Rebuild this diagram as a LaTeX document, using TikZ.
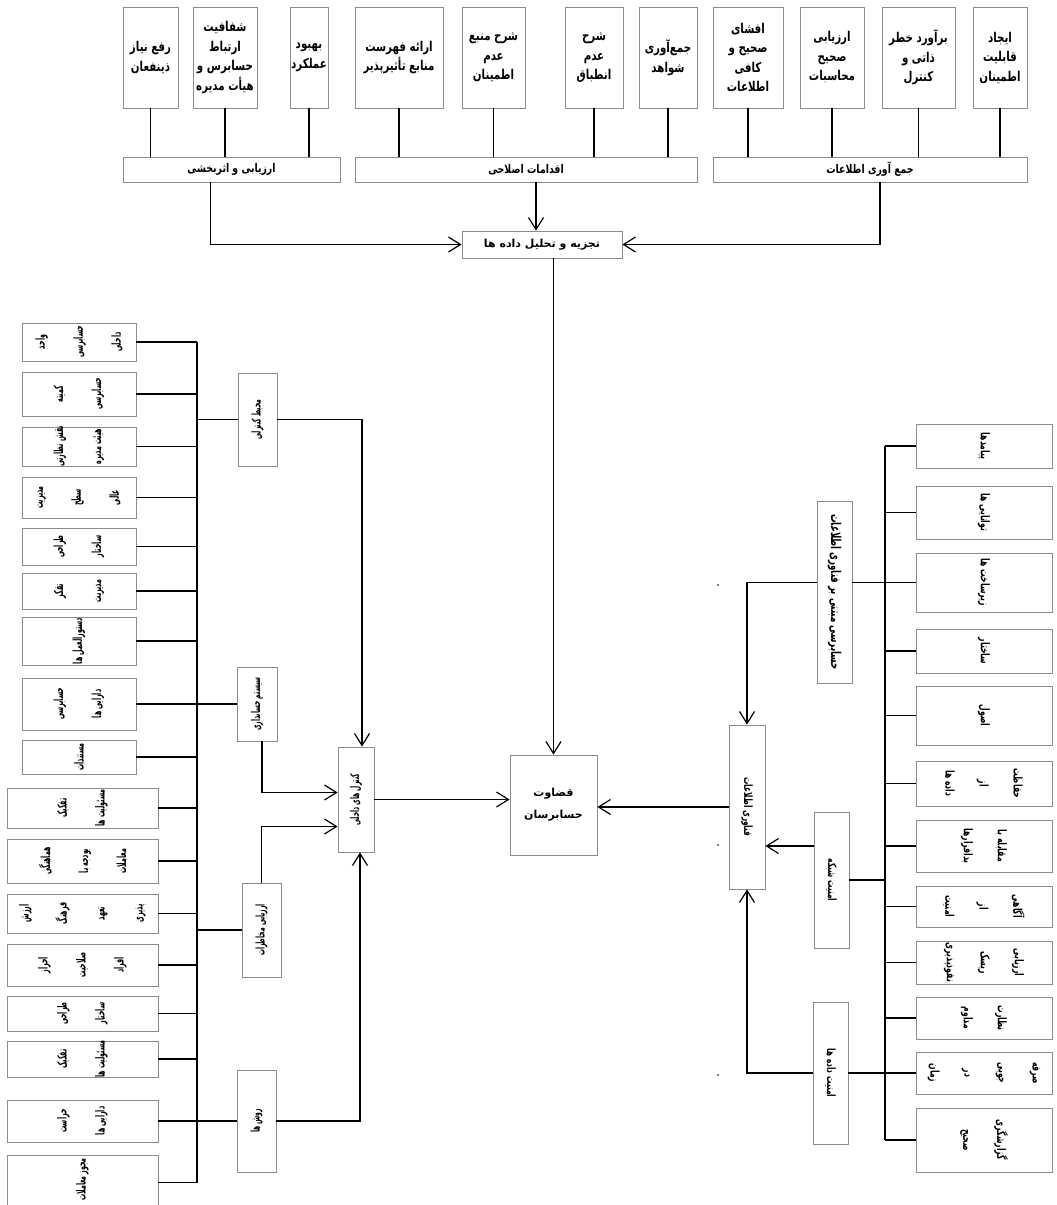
\documentclass[tikz,border=0pt]{standalone}
\usepackage{fontspec}
\usetikzlibrary{arrows.meta}
\TeXXeTstate=1
\newfontfamily\fa[Script=Arabic]{DejaVu Sans}
\newfontfamily\fatop[Script=Arabic,FakeStretch=0.76]{DejaVu Sans}
\newfontfamily\facond[Script=Arabic,FakeStretch=0.78]{DejaVu Sans}
\newfontfamily\fanar[Script=Arabic,FakeStretch=0.64]{DejaVu Sans}
\newfontfamily\fanarr[Script=Arabic,FakeStretch=0.5]{DejaVu Sans}
\newcommand\RL[1]{\beginR #1\endR}
\newcommand\bx[7][]{\node[box,#1,minimum width={(#5-#3)*1pt},minimum height={(#6-#4)*1pt}] (#2) at ({(#3+#5)/2},{(#4+#6)/2}) {#7};}
\newcommand\rbx[7]{\node[box,minimum width={(#4-#2)*1pt},minimum height={(#5-#3)*1pt}] (#1) at ({(#2+#4)/2},{(#3+#5)/2}) {};
  \node[#6] (#1t) at (#1) {#7};}
\tikzset{
  box/.style={draw=black!45, line width=0.8pt, fill=white, inner sep=0pt, align=center},
  ttxt/.style={font=\fatop\bfseries\fontsize{13.5}{19.5}\selectfont},
  btxt/.style={font=\facond\bfseries\fontsize{12}{14}\selectfont},
  ctxt/.style={font=\fa\bfseries\fontsize{11}{13}\selectfont},
  qtxt/.style={font=\fa\bfseries\fontsize{11}{22}\selectfont},
  ltx/.style={rotate=90, align=center, inner sep=0pt, font=\fanarr\bfseries\fontsize{12.5}{38}\selectfont},
  rtx/.style={rotate=-90, align=center, inner sep=0pt, font=\fanar\bfseries\fontsize{12}{34}\selectfont},
  mlx/.style={rotate=90, align=center, inner sep=0pt, font=\fanarr\bfseries\fontsize{12}{13}\selectfont},
  mrx/.style={rotate=-90, align=center, inner sep=0pt, font=\fanar\bfseries\fontsize{11.5}{13}\selectfont},
  con/.style={line width=1.3pt, black},
  arr/.style={con, -{Straight Barb[length=12pt,width=15pt,line width=1.2pt]}}
}
\begin{document}
\begin{tikzpicture}[x=1pt,y=-1pt]
\useasboundingbox (0,0) rectangle (1057,1205);
\fill[white] (0,0) rectangle (1057,1205);

% top boxes
\bx[ttxt]{t1}{123}{7}{178}{108}{\RL{رفع نیاز}\\\RL{ذینفعان}}
\bx[ttxt]{t2}{193}{7}{257}{108}{\RL{شفافیت}\\\RL{ارتباط}\\\RL{حسابرس و}\\\RL{هیأت مدیره}}
\bx[ttxt]{t3}{290}{7}{328}{108}{\RL{بهبود}\\\RL{عملکرد}}
\bx[ttxt]{t4}{355}{7}{443}{108}{\RL{ارائه فهرست}\\\RL{منابع تأثیرپذیر}}
\bx[ttxt]{t5}{462}{7}{525}{108}{\RL{شرح منبع}\\\RL{عدم}\\\RL{اطمینان}}
\bx[ttxt]{t6}{565}{7}{623}{108}{\RL{شرح}\\\RL{عدم}\\\RL{انطباق}}
\bx[ttxt]{t7}{639}{7}{697}{108}{\RL{جمع‌آوری}\\\RL{شواهد}}
\bx[ttxt]{t8}{713}{7}{783}{108}{\RL{افشای}\\\RL{صحیح و}\\\RL{کافی}\\\RL{اطلاعات}}
\bx[ttxt]{t9}{800}{7}{864}{108}{\RL{ارزیابی}\\\RL{صحیح}\\\RL{محاسبات}}
\bx[ttxt]{t10}{882}{7}{955}{108}{\RL{برآورد خطر}\\\RL{ذاتی و}\\\RL{کنترل}}
\bx[ttxt]{t11}{973}{7}{1027}{108}{\RL{ایجاد}\\\RL{قابلیت}\\\RL{اطمینان}}

% bars
\bx[btxt]{b1}{123}{157}{340}{182}{\RL{ارزیابی و اثربخشی}}
\bx[btxt]{b2}{355}{157}{697}{182}{\RL{اقدامات اصلاحی}}
\bx[btxt]{b3}{713}{157}{1027}{182}{\RL{جمع آوری اطلاعات}}
\bx[ctxt]{cb}{462}{231}{622}{258}{\RL{تجزیه و تحلیل داده ها}}
\bx[qtxt]{qz}{510}{755}{597}{855}{\RL{قضاوت}\\\RL{حسابرسان}}

\foreach \i/\b in {1/1,2/1,3/1,4/2,5/2,6/2,7/2,8/3,9/3,10/3,11/3}
  \draw[con] (t\i.south) -- (t\i.south |- b\b.north);
\draw[arr] ([xshift=-21pt]b1.south) |- (cb.west);
\draw[arr] ([xshift=10pt]b2.south) -- ([xshift=10pt]b2.south |- cb.north);
\draw[arr] ([xshift=10pt]b3.south) |- (cb.east);
\draw[arr] (cb.south -| qz.north) -- (qz.north);

% left column
\coordinate (ls) at (197,0);
\rbx{L1}{22}{323}{136}{361}{ltx}{\RL{واحد}\\\RL{حسابرسی}\\\RL{داخلی}}
\rbx{L2}{22}{372}{136}{416}{ltx}{\RL{کمیته}\\\RL{حسابرسی}}
\rbx{L3}{22}{427}{136}{466}{ltx}{\RL{نقش نظارتی}\\\RL{هیئت مدیره}}
\rbx{L4}{22}{477}{136}{518}{ltx}{\RL{مدیریت}\\\RL{سطح}\\\RL{عالی}}
\rbx{L5}{22}{528}{136}{565}{ltx}{\RL{طراحی}\\\RL{ساختار}}
\rbx{L6}{22}{573}{136}{609}{ltx}{\RL{تفکر}\\\RL{مدیریت}}
\rbx{L7}{22}{617}{136}{665}{ltx}{\RL{دستورالعمل ها}}
\rbx{L8}{22}{678}{136}{730}{ltx}{\RL{حسابرسی}\\\RL{دارایی ها}}
\rbx{L9}{22}{740}{136}{774}{ltx}{\RL{مستندات}}
\rbx{L10}{7}{788}{158}{828}{ltx}{\RL{تفکیک}\\\RL{مسئولیت ها}}
\rbx{L11}{7}{839}{158}{883}{ltx}{\RL{هماهنگی}\\\RL{بودجه با}\\\RL{معاملات}}
\rbx{L12}{7}{894}{158}{933}{ltx}{\RL{ارزش}\\\RL{فرهنگ}\\\RL{تعهد}\\\RL{پذیری}}
\rbx{L13}{7}{944}{158}{986}{ltx}{\RL{احراز}\\\RL{صلاحیت}\\\RL{افراد}}
\rbx{L14}{7}{996}{158}{1031}{ltx}{\RL{طراحی}\\\RL{ساختار}}
\rbx{L15}{7}{1041}{158}{1077}{ltx}{\RL{تفکیک}\\\RL{مسئولیت ها}}
\rbx{L16}{7}{1100}{158}{1142}{ltx}{\RL{حراست}\\\RL{دارایی ها}}
\node[box,minimum width=151pt,minimum height=55pt] (L17) at (82.5,1182.5) {};
\node[ltx] (L17t) at ([yshift=3pt]L17) {\RL{مجوز معاملات}};
\foreach \i in {1,...,17} \draw[con] (L\i.east) -- (L\i.east -| ls);
\draw[con] (L1.east -| ls) -- (L17.east -| ls);

% middle left
\rbx{mk}{238}{373}{277}{466}{mlx}{\RL{محیط کنترلی}}
\rbx{sh}{237}{667}{277}{741}{mlx}{\RL{سیستم حسابداری}}
\rbx{am}{242}{883}{281}{977}{mlx}{\RL{ارزیابی مخاطرات}}
\rbx{rv}{237}{1070}{276}{1172}{mlx}{\RL{روش ها}}
\rbx{kd}{338}{747}{374}{852}{mlx}{\RL{کنترل های داخلی}}
\foreach \n in {mk,sh,am,rv} \draw[con] (\n.west) -- (\n.west -| ls);
\draw[arr] (mk.east) -| ([xshift=6pt]kd.north);
\draw[arr] ([xshift=5pt]sh.south) |- ([yshift=7pt]kd.west);
\draw[arr] (am.north) |- ([yshift=-27pt]kd.west);
\draw[arr] (rv.east) -| ([xshift=4pt]kd.south);
\draw[arr] (kd.east) -- (kd.east -| qz.west);

% right column
\coordinate (rs) at (885,0);
\rbx{R1}{916}{424}{1052}{468}{rtx}{\RL{پیامدها}}
\rbx{R2}{916}{486}{1052}{539}{rtx}{\RL{توانایی ها}}
\rbx{R3}{916}{553}{1052}{612}{rtx}{\RL{زیرساخت ها}}
\rbx{R4}{916}{629}{1052}{673}{rtx}{\RL{ساختار}}
\rbx{R5}{916}{686}{1052}{745}{rtx}{\RL{اصول}}
\rbx{R6}{916}{761}{1052}{806}{rtx}{\RL{حفاظت}\\\RL{از}\\\RL{داده ها}}
\rbx{R7}{916}{820}{1052}{872}{rtx}{\RL{مقابله با}\\\RL{بدافزارها}}
\rbx{R8}{916}{886}{1052}{927}{rtx}{\RL{آگاهی}\\\RL{از}\\\RL{امنیت}}
\rbx{R9}{916}{941}{1052}{984}{rtx}{\RL{ارزیابی}\\\RL{ریسک}\\\RL{نفوذپذیری}}
\rbx{R10}{916}{997}{1052}{1039}{rtx}{\RL{نظارت}\\\RL{مداوم}}
\rbx{R11}{916}{1052}{1052}{1094}{rtx}{\RL{صرفه}\\\RL{جویی}\\\RL{در}\\\RL{زمان}}
\rbx{R12}{916}{1108}{1052}{1172}{rtx}{\RL{گزارشگری}\\\RL{صحیح}}
\foreach \i in {1,...,12} \draw[con] (R\i.west) -- (R\i.west -| rs);
\draw[con] (R1.west -| rs) -- (R12.west -| rs);

% middle right
\rbx{hm}{817}{501}{852}{683}{mrx,font=\fanar\bfseries\fontsize{13.5}{15}\selectfont}{\RL{حسابرسی مبتنی بر فناوری اطلاعات}}
\rbx{ams}{814}{812}{849}{948}{mrx}{\RL{امنیت شبکه}}
\rbx{amd}{813}{1002}{848}{1144}{mrx}{\RL{امنیت داده ها}}
\rbx{ft}{729}{725}{765}{889}{mrx}{\RL{فناوری اطلاعات}}
\draw[con] (R3.west) -- (R3.west -| hm.east);
\draw[arr] (R3.west -| hm.west) -| (ft.north);
\draw[con] (ams.east) -- (ams.east -| rs);
\draw[arr] (R7.west -| ams.west) -- (R7.west -| ft.east);
\draw[con] (R11.west) -- (R11.west -| amd.east);
\draw[arr] (R11.west -| amd.west) -| (ft.south);
\draw[arr] (ft.west) -- (ft.west -| qz.east);

% stray dots
\fill (718,585) circle (0.9);
\fill (718,845) circle (0.9);
\fill (718,1075) circle (0.9);
\end{tikzpicture}
\end{document}
